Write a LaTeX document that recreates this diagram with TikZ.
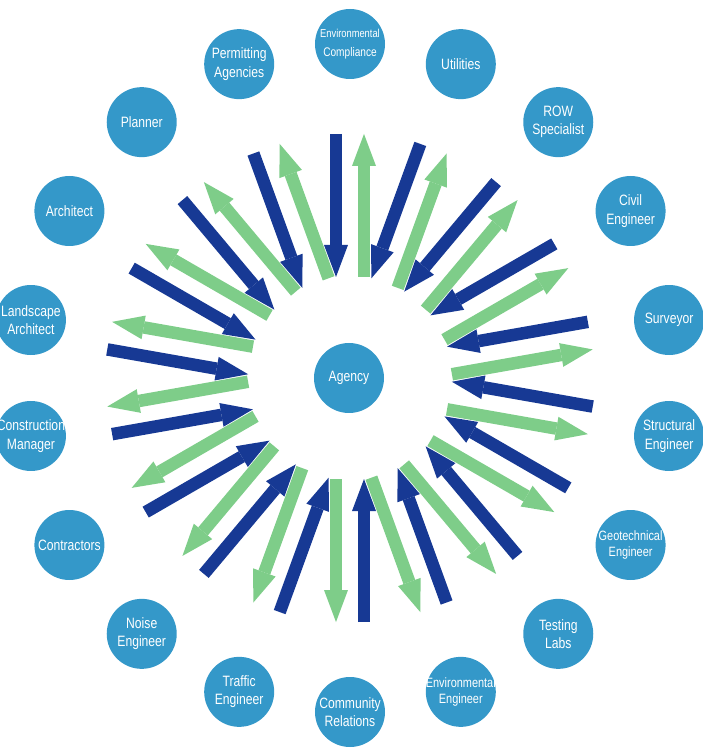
\documentclass[tikz,border=0pt]{standalone}
\usepackage{fontspec}
\newfontfamily\lblfont[FakeStretch=0.81]{Liberation Sans}
\usetikzlibrary{arrows.meta,calc}
\definecolor{cblue}{RGB}{52,152,201}
\definecolor{adark}{RGB}{23,57,148}
\definecolor{agreen}{RGB}{126,205,137}
\begin{document}
\begin{tikzpicture}[x=1pt,y=1pt,
  disc/.style={circle, fill=cblue, minimum size=70pt, inner sep=0pt},
  lbl/.style={text=white, align=center, inner sep=0pt,
    font=\lblfont\fontsize{15}{18.3}\selectfont},
  inarrow/.style={draw=adark, line width=12.5pt,
    -{Triangle[width=24pt,length=32pt,line width=0pt]}},
  outarrow/.style={draw=agreen, line width=12.5pt,
    -{Triangle[width=24pt,length=32pt,line width=0pt]}}
]
\useasboundingbox (-350,-374) rectangle (353,378);

% arrows: dark blue inward, green outward, 18 pairs
\foreach \t in {0,20,...,340} {
  \pgfmathsetmacro\p{90-\t}
  \coordinate (bo\t) at ($(\p:244)+(\p+90:14)$);
  \coordinate (bi\t) at ($(\p:101)+(\p+90:14)$);
  \coordinate (gi\t) at ($(\p:101)+(\p-90:14)$);
  \coordinate (go\t) at ($(\p:244)+(\p-90:14)$);
  \draw[inarrow] (bo\t) -- (bi\t);
}
\foreach \t in {0,20,...,340} {
  \draw[outarrow] (gi\t) -- (go\t);
}

% centre
\node[disc] (agency) at (-1,0) {};
\node[lbl] (agency-t) at (agency) {Agency};

% outer circles
\node[disc] (envc) at (0,334) {};
\node[lbl] (envc-t) at (envc) {{\fontsize{11.5}{15}\selectfont Environmental}\\{\fontsize{12.5}{15}\selectfont Compliance}};

\node[disc] (util) at ({324*sin(20)},{334*cos(20)}) {};
\node[lbl] (util-t) at (util) {Utilities};

\node[disc] (row) at ({324*sin(40)},{334*cos(40)}) {};
\node[lbl] (row-t) at (row) {ROW\\Specialist};

\node[disc] (civil) at ({324*sin(60)},{334*cos(60)}) {};
\node[lbl] (civil-t) at (civil) {Civil\\Engineer};

\node[disc] (surv) at ({324*sin(80)},{334*cos(80)}) {};
\node[lbl] (surv-t) at (surv) {Surveyor};

\node[disc] (struct) at ({324*sin(100)},{334*cos(100)}) {};
\node[lbl] (struct-t) at (struct) {Structural\\Engineer};

\node[disc] (geo) at ({324*sin(120)},{334*cos(120)}) {};
\node[lbl, font=\lblfont\fontsize{13.5}{15.5}\selectfont] (geo-t) at (geo) {Geotechnical\\Engineer};

\node[disc] (test) at ({324*sin(140)},{334*cos(140)}) {};
\node[lbl] (test-t) at (test) {Testing\\Labs};

\node[disc] (enve) at ({324*sin(160)},{334*cos(160)}) {};
\node[lbl, font=\lblfont\fontsize{13.5}{16}\selectfont] (enve-t) at (enve) {Environmental\\Engineer};

\node[disc] (comm) at (0,-334) {};
\node[lbl] (comm-t) at (comm) {Community\\Relations};

\node[disc] (traf) at ({324*sin(200)},{334*cos(200)}) {};
\node[lbl] (traf-t) at (traf) {Traffic\\Engineer};

\node[disc] (noise) at ({324*sin(220)},{334*cos(220)}) {};
\node[lbl] (noise-t) at (noise) {Noise\\Engineer};

\node[disc] (contr) at ({324*sin(240)},{334*cos(240)}) {};
\node[lbl] (contr-t) at (contr) {Contractors};

\node[disc] (cm) at ({324*sin(260)},{334*cos(260)}) {};
\node[lbl] (cm-t) at (cm) {Construction\\Manager};

\node[disc] (land) at ({324*sin(280)},{334*cos(280)}) {};
\node[lbl] (land-t) at (land) {Landscape\\Architect};

\node[disc] (arch) at ({324*sin(300)},{334*cos(300)}) {};
\node[lbl] (arch-t) at (arch) {Architect};

\node[disc] (plan) at ({324*sin(320)},{334*cos(320)}) {};
\node[lbl] (plan-t) at (plan) {Planner};

\node[disc] (perm) at ({324*sin(340)},{334*cos(340)}) {};
\node[lbl] (perm-t) at (perm) {Permitting\\Agencies};
\end{tikzpicture}
\end{document}
